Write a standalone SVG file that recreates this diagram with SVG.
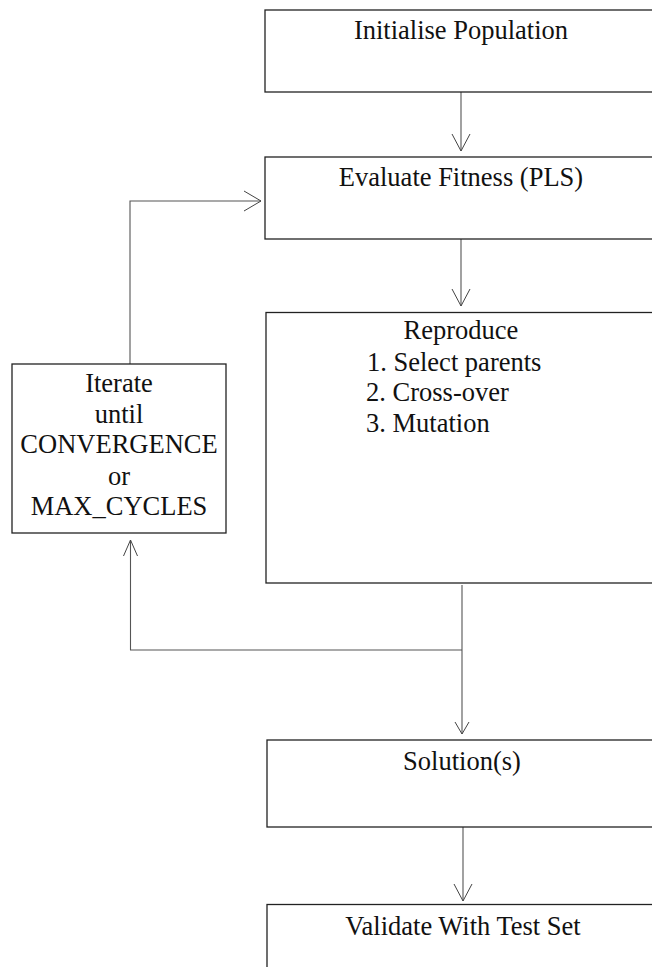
<svg xmlns="http://www.w3.org/2000/svg" width="652" height="967" viewBox="0 0 652 967">
<style>
.box{fill:#fff;stroke:#222;stroke-width:1.3}
.ln{fill:none;stroke:#555;stroke-width:1.1}
.hd{fill:none;stroke:#444;stroke-width:1}
text{font-family:"Liberation Serif","Times New Roman",serif;font-size:26.5px;fill:#111}
.c{text-anchor:middle}
</style>
<rect width="652" height="967" fill="#fff"/>
<g id="connectors">
<path class="ln" d="M461,92 V151"/>
<path class="hd" d="M452,134 L461,151 L470,134"/>
<path class="ln" d="M461,239 V306"/>
<path class="hd" d="M452,289 L461,306 L470,289"/>
<path class="ln" d="M130,364 V201 H261"/>
<path class="hd" d="M244,191 L261,201 L244,211"/>
<path class="ln" d="M462,585 V734"/>
<path class="ln" d="M130.5,540 V650 H462"/>
<path class="hd" d="M123.5,556 L130.5,540 L137.5,556"/>
<path class="hd" d="M455,722 L462,734 L469,722"/>
<path class="ln" d="M463,827 V901"/>
<path class="hd" d="M454,884 L463,901 L472,884"/>
</g>
<g id="init">
<rect class="box" x="265" y="10" width="400" height="82"/>
<text class="c" x="461" y="39">Initialise Population</text>
</g>
<g id="evaluate">
<rect class="box" x="265" y="157" width="400" height="82"/>
<text class="c" x="461" y="186">Evaluate Fitness (PLS)</text>
</g>
<g id="reproduce">
<rect class="box" x="266" y="312.5" width="400" height="270.5"/>
<text class="c" x="461" y="339">Reproduce</text>
<text x="367" y="371">1. Select parents</text>
<text x="366" y="401">2. Cross-over</text>
<text x="366" y="432">3. Mutation</text>
</g>
<g id="iterate">
<rect class="box" x="12" y="364" width="214" height="169"/>
<text class="c" x="119" y="392">Iterate</text>
<text class="c" x="119" y="423">until</text>
<text class="c" x="119" y="453">CONVERGENCE</text>
<text class="c" x="119" y="485">or</text>
<text class="c" x="119" y="515">MAX_CYCLES</text>
</g>
<g id="solution">
<rect class="box" x="267" y="740" width="400" height="87"/>
<text class="c" x="462" y="770">Solution(s)</text>
</g>
<g id="validate">
<rect class="box" x="267" y="904.5" width="400" height="100"/>
<text class="c" x="463" y="935">Validate With Test Set</text>
</g>
</svg>
